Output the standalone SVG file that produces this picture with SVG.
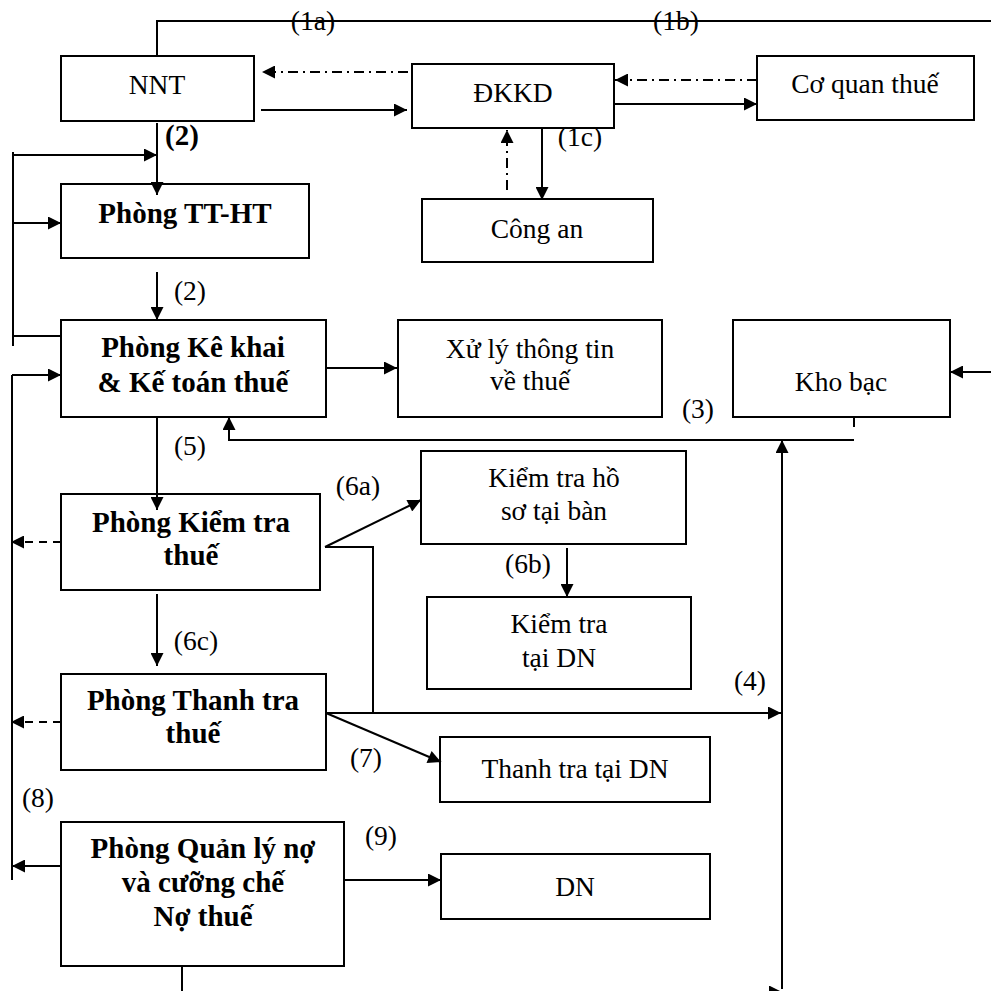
<svg xmlns="http://www.w3.org/2000/svg" width="991" height="991" viewBox="0 0 991 991">
<style>
.box{fill:#fff;stroke:#000;stroke-width:2}
.t{font-family:"Liberation Serif","Times New Roman",serif;font-size:27.5px;fill:#000;text-anchor:middle}
.b{font-family:"Liberation Serif","Times New Roman",serif;font-size:29px;font-weight:bold;fill:#000;text-anchor:middle}
.c{fill:none;stroke:#000;stroke-width:2}
.dd{stroke-dasharray:10,5,2,5}
.da{stroke-dasharray:8,6}
</style>
<defs>
<marker id="ah" viewBox="0 0 10 10" refX="10" refY="5" markerWidth="16" markerHeight="13" markerUnits="userSpaceOnUse" orient="auto">
<path d="M0,0 L10,5 L0,10 z" fill="#000"/>
</marker>
</defs>
<rect width="991" height="991" fill="#fff"/>
<g id="nnt"><rect class="box" x="61" y="56" width="193" height="65"/><text class="t" x="157" y="94">NNT</text></g>
<g id="dkkd"><rect class="box" x="412" y="64" width="202" height="64"/><text class="t" x="513" y="102">ĐKKD</text></g>
<g id="coquanthue"><rect class="box" x="757" y="56" width="217" height="64"/><text class="t" x="865" y="93">Cơ quan thuế</text></g>
<g id="congan"><rect class="box" x="422" y="199" width="231" height="63"/><text class="t" x="537" y="238">Công an</text></g>
<g id="phongtt"><rect class="box" x="61" y="184" width="248" height="74"/><text class="b" x="185" y="223">Phòng TT-HT</text></g>
<g id="kekhai"><rect class="box" x="61" y="320" width="265" height="97"/><text class="b" x="193" y="357">Phòng Kê khai</text><text class="b" x="193" y="392">&amp; Kế toán thuế</text></g>
<g id="xuly"><rect class="box" x="398" y="320" width="264" height="97"/><text class="t" x="530" y="358">Xử lý thông tin</text><text class="t" x="530" y="390">về thuế</text></g>
<g id="khobac"><rect class="box" x="733" y="320" width="217" height="97"/><text class="t" x="841" y="391">Kho bạc</text></g>
<g id="kiemtra"><rect class="box" x="61" y="494" width="259" height="96"/><text class="b" x="191" y="532">Phòng Kiểm tra</text><text class="b" x="191" y="565">thuế</text></g>
<g id="kthoso"><rect class="box" x="421" y="451" width="265" height="93"/><text class="t" x="554" y="487">Kiểm tra hồ</text><text class="t" x="554" y="520">sơ tại bàn</text></g>
<g id="kttaidn"><rect class="box" x="427" y="597" width="264" height="92"/><text class="t" x="559" y="633">Kiểm tra</text><text class="t" x="559" y="667">tại DN</text></g>
<g id="thanhtra"><rect class="box" x="61" y="674" width="265" height="96"/><text class="b" x="193" y="710">Phòng Thanh tra</text><text class="b" x="193" y="743">thuế</text></g>
<g id="tttaidn"><rect class="box" x="440" y="737" width="270" height="65"/><text class="t" x="575" y="778">Thanh tra tại DN</text></g>
<g id="quanlyno"><rect class="box" x="61" y="822" width="283" height="144"/><text class="b" x="203" y="858">Phòng Quản lý nợ</text><text class="b" x="203" y="892">và cưỡng chế</text><text class="b" x="203" y="926">Nợ thuế</text></g>
<g id="dn"><rect class="box" x="441" y="854" width="269" height="65"/><text class="t" x="575" y="896">DN</text></g>
<g id="connectors">
<path class="c" d="M157,56 V21 H991"/>
<path class="c" d="M261,110 H407" marker-end="url(#ah)"/>
<path class="c dd" d="M408,72 H262" marker-end="url(#ah)"/>
<path class="c" d="M614,104 H757" marker-end="url(#ah)"/>
<path class="c dd" d="M757,80 H615" marker-end="url(#ah)"/>
<path class="c" d="M542,128 V200" marker-end="url(#ah)"/>
<path class="c dd" d="M507,190 V130" marker-end="url(#ah)"/>
<path class="c" d="M157,123 V195" marker-end="url(#ah)"/>
<path class="c" d="M13,152 V346"/>
<path class="c" d="M13,336 H61"/>
<path class="c" d="M13,155 H157" marker-end="url(#ah)"/>
<path class="c" d="M13,223 H61" marker-end="url(#ah)"/>
<path class="c" d="M157,272 V320" marker-end="url(#ah)"/>
<path class="c" d="M326,368 H397" marker-end="url(#ah)"/>
<path class="c" d="M854,417 V427"/>
<path class="c" d="M854,440 H229 V417" marker-end="url(#ah)"/>
<path class="c" d="M991,372 H950" marker-end="url(#ah)"/>
<path class="c" d="M157,417 V510" marker-end="url(#ah)"/>
<path class="c" d="M325,547 L421,500" marker-end="url(#ah)"/>
<path class="c" d="M325,547 H373 V713"/>
<path class="c" d="M567,548 V597" marker-end="url(#ah)"/>
<path class="c" d="M157,594 V666" marker-end="url(#ah)"/>
<path class="c" d="M326,713 H781" marker-end="url(#ah)"/>
<path class="c" d="M326,713 L441,762" marker-end="url(#ah)"/>
<path class="c" d="M782,989 V440" marker-end="url(#ah)"/>
<path class="c" d="M182,966 V992 H782" marker-end="url(#ah)"/>
<path class="c" d="M12,375 V880"/>
<path class="c" d="M12,375 H61" marker-end="url(#ah)"/>
<path class="c da" d="M61,542 H11" marker-end="url(#ah)"/>
<path class="c da" d="M61,722 H11" marker-end="url(#ah)"/>
<path class="c" d="M61,866 H12" marker-end="url(#ah)"/>
<path class="c" d="M344,880 H441" marker-end="url(#ah)"/>
<text class="t" x="313" y="30">(1a)</text>
<text class="t" x="676" y="30">(1b)</text>
<text class="t" x="580" y="146">(1c)</text>
<text class="b" x="182" y="145">(2)</text>
<text class="t" x="190" y="300">(2)</text>
<text class="t" x="698" y="418">(3)</text>
<text class="t" x="750" y="690">(4)</text>
<text class="t" x="190" y="455">(5)</text>
<text class="t" x="358" y="495">(6a)</text>
<text class="t" x="528" y="573">(6b)</text>
<text class="t" x="196" y="650">(6c)</text>
<text class="t" x="366" y="767">(7)</text>
<text class="t" x="38" y="807">(8)</text>
<text class="t" x="381" y="845">(9)</text>
</g>
</svg>
